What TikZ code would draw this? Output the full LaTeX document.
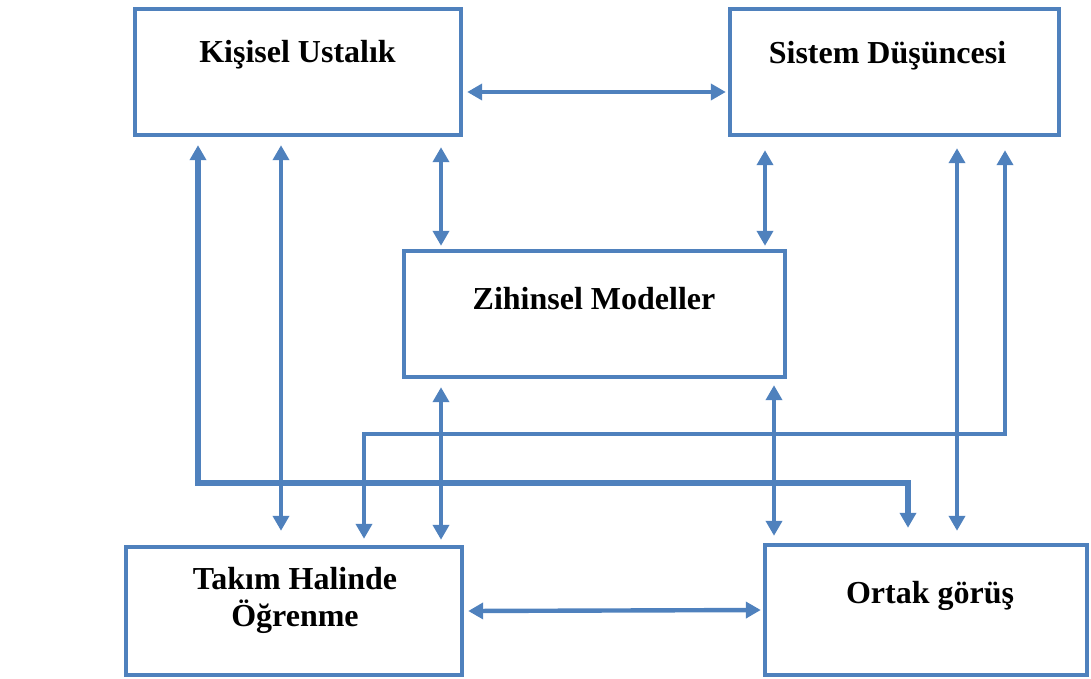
\documentclass[tikz,border=0pt]{standalone}
\usepackage{fontspec}
\setmainfont{Liberation Serif}
\usetikzlibrary{arrows.meta}
\definecolor{mavi}{HTML}{4F81BD}
\begin{document}
\begin{tikzpicture}[x=0.5pt,y=-0.5pt,>={Triangle[width=8pt,length=7.5pt]},
  kutu/.style={draw=mavi,line width=2.2pt,rectangle,inner sep=0pt,minimum height=63pt},
  yazi/.style={inner sep=0pt,font=\bfseries\fontsize{16pt}{18.5pt}\selectfont,align=center},
  ok/.style={draw=mavi,line width=2.2pt,<->},
  kalin/.style={ok,line width=3pt}]
\useasboundingbox (0,0) rectangle (1091,679);
\node[kutu,minimum width=163pt](kisisel) at (298,72) {};
\node[kutu,minimum width=164.5pt](sistem) at (894.5,72) {};
\node[kutu,minimum width=190.5pt](zihinsel) at (594.5,314) {};
\node[kutu,minimum width=168pt,minimum height=64pt](takim) at (294,611) {};
\node[kutu,minimum width=161pt,minimum height=65pt](ortak) at (926,610) {};
\node[yazi,anchor=base](kisiselY) at (297.5,63) {Kişisel Ustalık};
\node[yazi,anchor=base](sistemY) at (887.5,64) {Sistem Düşüncesi};
\node[yazi,anchor=base](zihinselY) at (594,309) {Zihinsel Modeller};
\node[yazi,anchor=north](takimY) at (295,566.5) {Takım Halinde\\Öğrenme};
\node[yazi,anchor=base](ortakY) at (930,603) {Ortak görüş};
\draw[ok] ([xshift=2pt,yshift=-10pt]kisisel.east) -- ([xshift=-1pt,yshift=-10pt]sistem.west);
\draw[kalin] ([xshift=-50pt,yshift=-4pt]kisisel.south) -- ++(0,338) -| ([xshift=-9pt,yshift=7.5pt]ortak.north);
\draw[ok] ([xshift=-8.5pt,yshift=-4pt]kisisel.south) -- ([xshift=-6.5pt,yshift=7pt]takim.north);
\draw[ok] ([xshift=71.5pt,yshift=-5pt]kisisel.south) -- ([xshift=-76.75pt,yshift=1.5pt]zihinsel.north);
\draw[ok] ([xshift=-64.75pt,yshift=-6.5pt]sistem.south) -- ([xshift=85.25pt,yshift=1.5pt]zihinsel.north);
\draw[ok] ([xshift=-76.75pt,yshift=-4pt]zihinsel.south) -- ([xshift=73.5pt,yshift=2.5pt]takim.north);
\draw[ok] ([xshift=89.75pt,yshift=-3pt]zihinsel.south) -- ([xshift=-76pt,yshift=3.5pt]ortak.north);
\draw[ok] ([xshift=31.25pt,yshift=-5.5pt]sistem.south) -- ([xshift=15.5pt,yshift=6pt]ortak.north);
\draw[ok] ([xshift=55.25pt,yshift=-6.5pt]sistem.south) -- ++(0,284) -| ([xshift=35pt,yshift=3pt]takim.north);
\draw[ok] ([xshift=2pt]takim.east) -- ([xshift=-1pt]ortak.west);
\end{tikzpicture}
\end{document}
